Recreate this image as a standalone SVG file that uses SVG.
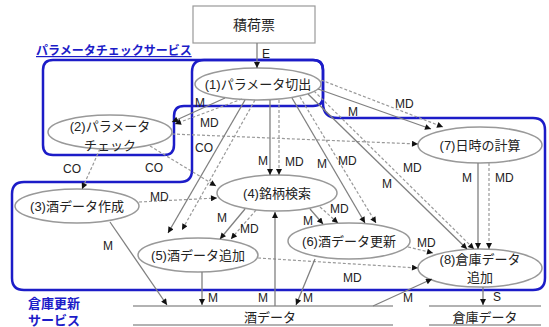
<svg xmlns="http://www.w3.org/2000/svg" width="549" height="327" viewBox="0 0 549 327">
<style>
.bg{fill:#fff}
.svc{fill:none;stroke:#1c1cc8;stroke-width:2.5}
.svct{fill:#1c1cc8;font-family:"Liberation Sans","Noto Sans CJK JP",sans-serif;font-weight:bold;font-size:13px}
.node{fill:#fff;stroke:#999;stroke-width:1.5}
.box{fill:#fff;stroke:#999;stroke-width:1.2}
.t{fill:#222;font-family:"Liberation Sans","Noto Sans CJK JP",sans-serif;font-size:13px;text-anchor:middle}
.l{fill:#222;font-family:"Liberation Sans","Noto Sans CJK JP",sans-serif;font-size:12px}
.s{fill:none;stroke:#808080;stroke-width:1.3}
.d{fill:none;stroke:#999;stroke-width:1.2;stroke-dasharray:3,2}
.ds{fill:none;stroke:#999;stroke-width:1.3}
</style>
<defs>
<marker id="a" viewBox="0 0 10 10" refX="10" refY="5" markerWidth="7" markerHeight="6" markerUnits="userSpaceOnUse" orient="auto"><path d="M0,0 L10,5 L0,10 z" fill="#111"/></marker>
</defs>
<rect class="bg" x="0" y="0" width="549" height="327"/>

<g id="services">
<path class="svc" d="M53,60 H313 Q323,60 323,70 V97 Q323,106 313,106 H184 Q174,106 174,116 V145 Q174,155 164,155 H53 Q43,155 43,145 V70 Q43,60 53,60 Z"/>
<path class="svc" d="M24,182 H180 Q192,182 192,170 V72 Q192,60 204,60 H313 Q323,60 323,70 V103 Q323,118 338,118 H533 Q545,118 545,130 V278 Q545,290 533,290 H24 Q12,290 12,278 V194 Q12,182 24,182 Z"/>
<text class="svct" x="36" y="55" font-size="12" text-decoration="underline" style="font-size:12px">パラメータチェックサービス</text>
<text class="svct" x="28" y="308">倉庫更新</text>
<text class="svct" x="28" y="325">サービス</text>
</g>

<g id="n0"><rect class="box" x="193" y="6" width="122" height="37"/><text class="t" x="254" y="30" style="font-size:14px">積荷票</text></g>
<g id="n1"><ellipse class="node" cx="258" cy="84" rx="63" ry="16"/><text class="t" x="258" y="89">(1)パラメータ切出</text></g>
<g id="n2"><ellipse class="node" cx="110" cy="132" rx="62" ry="17"/><text class="t" x="110" y="131">(2)パラメータ</text><text class="t" x="110" y="150">チェック</text></g>
<g id="n3"><ellipse class="node" cx="77" cy="206" rx="62" ry="17"/><text class="t" x="77" y="211">(3)酒データ作成</text></g>
<g id="n4"><ellipse class="node" cx="277" cy="193" rx="60" ry="18"/><text class="t" x="277" y="198">(4)銘柄検索</text></g>
<g id="n5"><ellipse class="node" cx="198" cy="255" rx="60" ry="17"/><text class="t" x="198" y="260">(5)酒データ追加</text></g>
<g id="n6"><ellipse class="node" cx="349" cy="241" rx="61" ry="18"/><text class="t" x="349" y="246">(6)酒データ更新</text></g>
<g id="n7"><ellipse class="node" cx="480" cy="145" rx="62" ry="18"/><text class="t" x="480" y="150">(7)日時の計算</text></g>
<g id="n8"><ellipse class="node" cx="480" cy="268" rx="62" ry="19"/><text class="t" x="480" y="264">(8)倉庫データ</text><text class="t" x="480" y="282">追加</text></g>
<g id="ds1"><line class="ds" x1="133" y1="306" x2="393" y2="306"/><line class="ds" x1="133" y1="325" x2="393" y2="325"/><text class="t" x="270" y="322">酒データ</text></g>
<g id="ds2"><line class="ds" x1="429" y1="306" x2="541" y2="306"/><line class="ds" x1="429" y1="325" x2="541" y2="325"/><text class="t" x="485" y="322">倉庫データ</text></g>

<g id="connectors">
<line class="s" x1="257" y1="43" x2="257" y2="68" marker-end="url(#a)"/>
<line class="s" x1="225" y1="98" x2="172" y2="122" marker-end="url(#a)"/>
<line class="d" x1="242" y1="99" x2="175" y2="124" marker-end="url(#a)"/>
<line class="d" x1="172" y1="134" x2="418" y2="144" marker-end="url(#a)"/>
<line class="d" x1="100" y1="149" x2="82" y2="189" marker-end="url(#a)"/>
<line class="d" x1="150" y1="146" x2="216" y2="186" marker-end="url(#a)"/>
<line class="d" x1="139" y1="202" x2="217" y2="198" marker-end="url(#a)"/>
<line class="s" x1="245" y1="100" x2="168" y2="233" marker-end="url(#a)"/>
<line class="d" x1="255" y1="100" x2="182" y2="230" marker-end="url(#a)"/>
<line class="s" x1="270" y1="100" x2="270" y2="175" marker-end="url(#a)"/>
<line class="d" x1="279" y1="100" x2="279" y2="175" marker-end="url(#a)"/>
<line class="s" x1="292" y1="98" x2="365" y2="223" marker-end="url(#a)"/>
<line class="d" x1="300" y1="97" x2="376" y2="223" marker-end="url(#a)"/>
<line class="s" x1="308" y1="94" x2="467" y2="249" marker-end="url(#a)"/>
<line class="d" x1="314" y1="91" x2="474" y2="249" marker-end="url(#a)"/>
<line class="s" x1="318" y1="89" x2="431" y2="129" marker-end="url(#a)"/>
<line class="d" x1="321" y1="80" x2="443" y2="127" marker-end="url(#a)"/>
<line class="s" x1="478" y1="163" x2="478" y2="249" marker-end="url(#a)"/>
<line class="d" x1="489" y1="163" x2="489" y2="249" marker-end="url(#a)"/>
<line class="s" x1="245" y1="209" x2="220" y2="239" marker-end="url(#a)"/>
<line class="d" x1="256" y1="210" x2="231" y2="239" marker-end="url(#a)"/>
<line class="s" x1="310" y1="209" x2="323" y2="224" marker-end="url(#a)"/>
<line class="d" x1="320" y1="207" x2="338" y2="223" marker-end="url(#a)"/>
<line class="d" x1="258" y1="258" x2="418" y2="268" marker-end="url(#a)"/>
<line class="d" x1="408" y1="247" x2="433" y2="253" marker-end="url(#a)"/>
<line class="s" x1="202" y1="272" x2="202" y2="305" marker-end="url(#a)"/>
<line class="s" x1="275" y1="306" x2="275" y2="212" marker-end="url(#a)"/>
<line class="s" x1="110" y1="222" x2="167" y2="305" marker-end="url(#a)"/>
<line class="s" x1="315" y1="259" x2="296" y2="305" marker-end="url(#a)"/>
<line class="s" x1="373" y1="306" x2="432" y2="279" marker-end="url(#a)"/>
<line class="s" x1="483" y1="287" x2="483" y2="305" marker-end="url(#a)"/>
</g>

<g id="labels">
<text class="l" x="262" y="58">E</text>
<text class="l" x="195" y="107">M</text>
<text class="l" x="200" y="127">MD</text>
<text class="l" x="195" y="152">CO</text>
<text class="l" x="145" y="172">CO</text>
<text class="l" x="63" y="173">CO</text>
<text class="l" x="150" y="201">MD</text>
<text class="l" x="258" y="165">M</text>
<text class="l" x="285" y="166">MD</text>
<text class="l" x="317" y="168">M</text>
<text class="l" x="338" y="165">MD</text>
<text class="l" x="403" y="172">MD</text>
<text class="l" x="382" y="188">M</text>
<text class="l" x="348" y="116">M</text>
<text class="l" x="395" y="108">MD</text>
<text class="l" x="462" y="182">M</text>
<text class="l" x="495" y="182">MD</text>
<text class="l" x="217" y="222">M</text>
<text class="l" x="240" y="233">MD</text>
<text class="l" x="303" y="225">M</text>
<text class="l" x="330" y="213">MD</text>
<text class="l" x="417" y="247">MD</text>
<text class="l" x="343" y="282">MD</text>
<text class="l" x="208" y="302">M</text>
<text class="l" x="258" y="302">M</text>
<text class="l" x="103" y="250">M</text>
<text class="l" x="303" y="302">M</text>
<text class="l" x="403" y="302">M</text>
<text class="l" x="493" y="301">S</text>
</g>
</svg>
